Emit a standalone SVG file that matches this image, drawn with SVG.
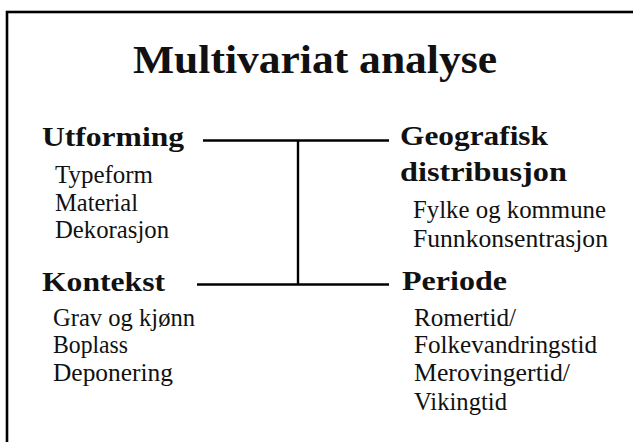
<svg xmlns="http://www.w3.org/2000/svg" width="633" height="442" viewBox="0 0 633 442">
<style>
text{font-family:"Liberation Serif","Times New Roman",serif;fill:#111}
.title{font-size:40px;font-weight:bold}
.head{font-size:28px;font-weight:bold}
.item{font-size:25px}
.conn{stroke:#000;stroke-width:2.4;fill:none}
</style>
<rect x="0" y="0" width="633" height="442" fill="#fff"/>
<rect x="7" y="12" width="700" height="500" fill="none" stroke="#000" stroke-width="2.6"/>
<g id="title"><text class="title" x="133" y="73" textLength="364" lengthAdjust="spacingAndGlyphs">Multivariat analyse</text></g>
<g id="connectors">
<line class="conn" x1="203" y1="140.5" x2="389" y2="140.5"/>
<line class="conn" x1="197" y1="284.5" x2="389" y2="284.5"/>
<line class="conn" x1="298" y1="140.5" x2="298" y2="284.5"/>
</g>
<g id="utforming">
<text class="head" x="42" y="146" textLength="142" lengthAdjust="spacingAndGlyphs">Utforming</text>
<text class="item" x="55" y="183" textLength="98" lengthAdjust="spacingAndGlyphs">Typeform</text>
<text class="item" x="55" y="211" textLength="83" lengthAdjust="spacingAndGlyphs">Material</text>
<text class="item" x="55" y="238" textLength="114" lengthAdjust="spacingAndGlyphs">Dekorasjon</text>
</g>
<g id="kontekst">
<text class="head" x="42" y="291" textLength="123" lengthAdjust="spacingAndGlyphs">Kontekst</text>
<text class="item" x="53" y="326" textLength="142" lengthAdjust="spacingAndGlyphs">Grav og kjønn</text>
<text class="item" x="53" y="353" textLength="75" lengthAdjust="spacingAndGlyphs">Boplass</text>
<text class="item" x="53" y="381" textLength="120" lengthAdjust="spacingAndGlyphs">Deponering</text>
</g>
<g id="geografisk">
<text class="head" x="400" y="145" textLength="148" lengthAdjust="spacingAndGlyphs">Geografisk</text>
<text class="head" x="400" y="181" textLength="167" lengthAdjust="spacingAndGlyphs">distribusjon</text>
<text class="item" x="413" y="218" textLength="193" lengthAdjust="spacingAndGlyphs">Fylke og kommune</text>
<text class="item" x="413" y="247" textLength="195" lengthAdjust="spacingAndGlyphs">Funnkonsentrasjon</text>
</g>
<g id="periode">
<text class="head" x="402" y="290" textLength="105" lengthAdjust="spacingAndGlyphs">Periode</text>
<text class="item" x="414" y="326" textLength="102" lengthAdjust="spacingAndGlyphs">Romertid/</text>
<text class="item" x="414" y="353" textLength="183" lengthAdjust="spacingAndGlyphs">Folkevandringstid</text>
<text class="item" x="414" y="381" textLength="156" lengthAdjust="spacingAndGlyphs">Merovingertid/</text>
<text class="item" x="414" y="410" textLength="93" lengthAdjust="spacingAndGlyphs">Vikingtid</text>
</g>
</svg>
